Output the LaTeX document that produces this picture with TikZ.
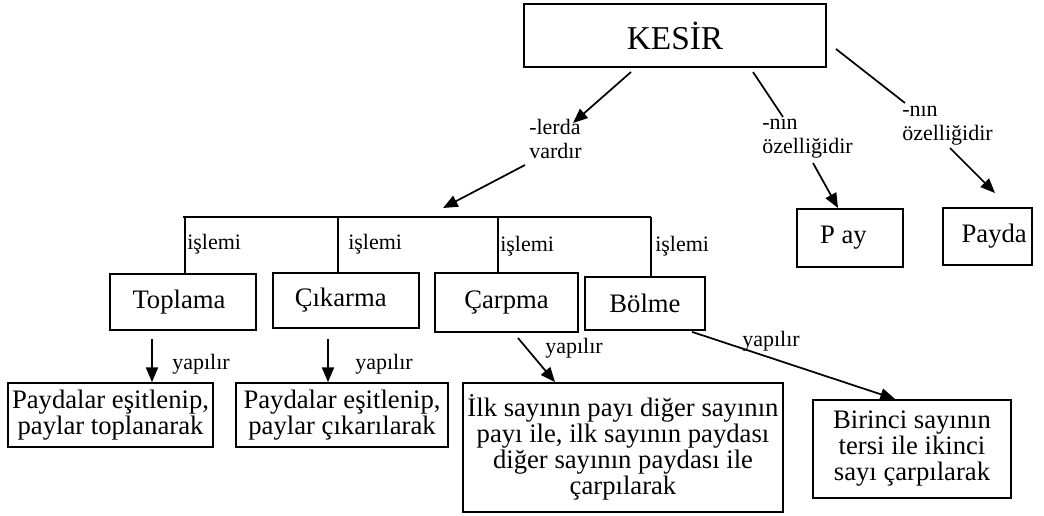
\documentclass[tikz,border=0pt]{standalone}
\usepackage{fontspec}
\setmainfont{Liberation Serif}
\usetikzlibrary{arrows.meta}
\begin{document}
\begin{tikzpicture}[x=0.75pt,y=-0.75pt,
  box/.style={draw, line width=1.3pt, inner sep=0pt, align=center,
    font=\fontsize{20}{19.5}\selectfont},
  title/.style={box, font=\fontsize{25}{28}\selectfont},
  lbl/.style={inner sep=0pt, align=left, anchor=west,
    font=\fontsize{16.5}{18}\selectfont},
  link/.style={line width=1.3pt},
  arr/.style={line width=1.3pt, -{Triangle[length=11pt,width=9pt]}}]
\useasboundingbox (0,0) rectangle (1044,516);

% top concept
\node[title, minimum width=226.5pt, minimum height=47.25pt] (kesir) at (675,35.5) {KES\.{I}R};

% parts of a fraction
\node[box, minimum width=79.5pt, minimum height=43.5pt] (pay) at (850,238) {P ay\hspace{10pt}};
\node[box, minimum width=66.75pt, minimum height=42.75pt] (payda) at (987.5,236.5) {\hspace{10pt}Payda};

% the four operations
\node[box, minimum width=109.5pt, minimum height=42pt] (topl) at (183,302) {Toplama\hspace{6pt}};
\node[box, minimum width=109.5pt, minimum height=41.25pt] (cik) at (346,300.5) {Çıkarma\hspace{8pt}};
\node[box, minimum width=107.25pt, minimum height=44.25pt] (carp) at (506.5,302.5) {Çarpma};
\node[box, minimum width=90pt, minimum height=39.75pt] (bol) at (645,303.5) {Bölme};

% how each operation is done
\node[box, minimum width=153.75pt, minimum height=48pt] (d1) at (110.5,415)
  {Paydalar eşitlenip,\\paylar toplanarak};
\node[box, minimum width=159pt, minimum height=48pt] (d2) at (342,415)
  {Paydalar eşitlenip,\\paylar çıkarılarak};
\node[box, minimum width=240pt, minimum height=96.75pt] (d3) at (623,447.5)
  {İlk sayının payı diğer sayının\\payı ile, ilk sayının paydası\\diğer sayının paydası ile\\çarpılarak};
\node[box, minimum width=148.5pt, minimum height=73.5pt] (d4) at (912,449)
  {Birinci sayının\\tersi ile ikinci\\sayı çarpılarak};

% connector labels
\node[lbl] (lerda) at (529,139) {-lerda\\vardır};
\node[lbl] (ozl1) at (762,139) {-nın\\özelliğidir};
\node[lbl] (ozl2) at (902,125.5) {-nın\\özelliğidir};
\node[lbl] (i1) at (187,244) {işlemi};
\node[lbl] (i2) at (348,244) {işlemi};
\node[lbl] (i3) at (500,246) {işlemi};
\node[lbl] (i4) at (655,246) {işlemi};
\node[lbl] (y1) at (172,364) {yapılır};
\node[lbl] (y2) at (355,364) {yapılır};
\node[lbl] (y3) at (545,348) {yapılır};
\node[lbl] (y4) at (742,341) {yapılır};

% connector end points
\coordinate (kA) at (631,72);
\coordinate (kB) at (753,72);
\coordinate (kC) at (836,49);
\coordinate (lerdaIn) at (573,123);
\coordinate (lerdaOut) at (525,165);
\coordinate (barTip) at (443,208);
\coordinate (o1In) at (783,117);
\coordinate (o1Out) at (813,163);
\coordinate (payIn) at (838,208);
\coordinate (o2In) at (905,103);
\coordinate (o2Out) at (950,148);
\coordinate (paydaIn) at (995,193);
\coordinate (barL) at (183,217);
\coordinate (barR) at (651,217);

% KESIR to its branches
\draw[arr] (kA) -- (lerdaIn);
\draw[link] (kB) -- (o1In);
\draw[link] (kC) -- (o2In);
\draw[arr] (lerdaOut) -- (barTip);
\draw[arr] (o1Out) -- (payIn);
\draw[arr] (o2Out) -- (paydaIn);

% bracket over the operations
\draw[link] (barL) -- (barR);
\draw[link] (barL -| 185,0) -- (topl.north -| 185,0);
\draw[link] (barL -| 338,0) -- (cik.north -| 338,0);
\draw[link] (barL -| 498,0) -- (carp.north -| 498,0);
\draw[link] (barR) -- (bol.north -| barR);

% operations to their methods
\draw[arr] (topl.south -| 152,0) ++(0,8) -- (d1.north -| 152,0);
\draw[arr] (cik.south -| 328,0) ++(0,10) -- (d2.north -| 328,0);
\draw[arr] (518,338) -- (d3.north -| 555,0);
\draw[arr] (bol.south -| 692,0) ++(0,1) -- (895,399);
\end{tikzpicture}
\end{document}
